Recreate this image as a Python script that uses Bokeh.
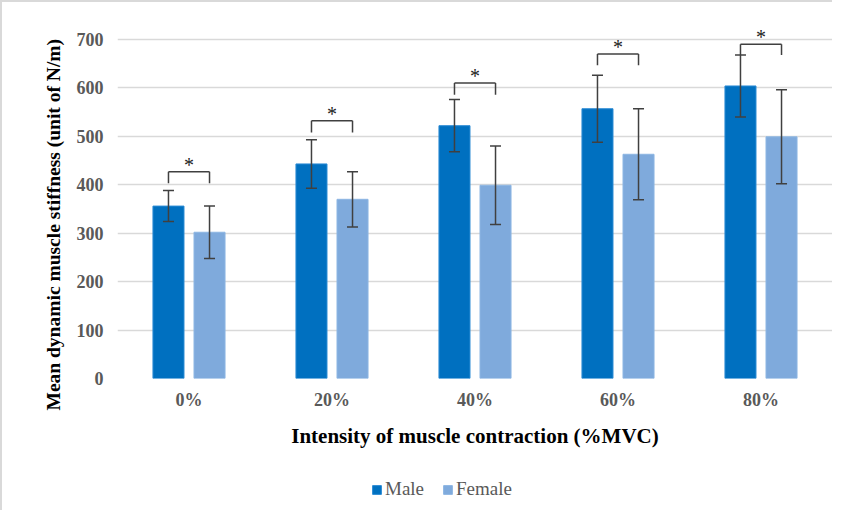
from bokeh.plotting import figure
from bokeh.layouts import column
from bokeh.models import (ColumnDataSource, FactorRange, Range1d, Whisker, TeeHead,
                          Legend, LegendItem, FixedTicker, Title)
from bokeh.transform import dodge
from bokeh.core.properties import value
from bokeh.embed import file_html
from bokeh.resources import INLINE

# ---------------- data ----------------
categories = ["0%", "20%", "40%", "60%", "80%"]
male = [356, 443, 522, 557, 604]
male_err = [32, 50, 54, 69, 64]
female = [302, 370, 399, 463, 499]
female_err = [54, 57, 81, 94, 97]
bracket_top = [427, 532, 610, 670, 690]
bracket_leg = [24, 24, 24, 23, 22]
y_ticks = [0, 100, 200, 300, 400, 500, 600, 700]
series_names = ["Male", "Female"]

FONT = "Liberation Serif"
MALE_C = "#0070C0"
FEMALE_C = "#7FAADC"
ERR_C = "#404040"
OFF = 0.1435
BW = 0.217
W = 832

src = ColumnDataSource(dict(
    cat=categories,
    male=male, female=female,
    m_up=[m + e for m, e in zip(male, male_err)],
    m_lo=[m - e for m, e in zip(male, male_err)],
    f_up=[f + e for f, e in zip(female, female_err)],
    f_lo=[f - e for f, e in zip(female, female_err)],
    b_top=bracket_top,
    b_bot=[t - l for t, l in zip(bracket_top, bracket_leg)],
    star=["*"] * len(categories),
))

p = figure(x_range=FactorRange(*categories), y_range=Range1d(0, 739.2),
           width=W, height=470, output_backend="svg", toolbar_location=None,
           min_border_left=115, min_border_right=2, min_border_top=18,
           min_border_bottom=94)
p.styles = {"border-left": "2px solid #d9d9d9", "border-top": "2px solid #d9d9d9"}
p.outline_line_color = None
p.x_range.range_padding = 0
p.x_range.factor_padding = 0

# bars
r_m = p.vbar(x=dodge("cat", -OFF, range=p.x_range), top="male", width=BW, source=src,
             fill_color=MALE_C, line_color="#2A8AD4", line_width=1)
r_f = p.vbar(x=dodge("cat", OFF, range=p.x_range), top="female", width=BW, source=src,
             fill_color=FEMALE_C, line_color="#8DB6E3", line_width=1)

# error bars
for base, up, lo in [(dodge("cat", -OFF, range=p.x_range), "m_up", "m_lo"),
                     (dodge("cat", OFF, range=p.x_range), "f_up", "f_lo")]:
    w = Whisker(base=base, upper=up, lower=lo, source=src, level="overlay",
                line_color=ERR_C, line_width=1.5,
                upper_head=TeeHead(size=11, line_color=ERR_C, line_width=1.5),
                lower_head=TeeHead(size=11, line_color=ERR_C, line_width=1.5))
    p.add_layout(w)

# significance brackets
xl = dodge("cat", -OFF, range=p.x_range)
xr = dodge("cat", OFF, range=p.x_range)
p.segment(x0=xl, x1=xr, y0="b_top", y1="b_top", source=src, line_color=ERR_C, line_width=1.5)
p.segment(x0=xl, x1=xl, y0="b_top", y1="b_bot", source=src, line_color=ERR_C, line_width=1.5)
p.segment(x0=xr, x1=xr, y0="b_top", y1="b_bot", source=src, line_color=ERR_C, line_width=1.5)
p.text(x="cat", y="b_top", text="star", source=src, text_align="center",
       text_baseline="bottom", y_offset=4, text_font=value(FONT),
       text_font_size="20px", text_color="#222222")

# axes
p.xgrid.grid_line_color = None
p.ygrid.grid_line_color = "#d9d9d9"
p.ygrid.grid_line_width = 1.5
p.yaxis.ticker = FixedTicker(ticks=y_ticks)
for ax in (p.xaxis[0], p.yaxis[0]):
    ax.axis_line_color = None
    ax.major_tick_line_color = None
    ax.minor_tick_line_color = None
    ax.major_label_text_font = FONT
    ax.major_label_text_font_style = "bold"
    ax.major_label_text_color = "#595959"
    ax.major_label_text_font_size = "18px"
p.yaxis.major_label_standoff = 8
p.xaxis.major_label_standoff = 5

p.xaxis.axis_label = "Intensity of muscle contraction (%MVC)"
p.xaxis.axis_label_text_font = FONT
p.xaxis.axis_label_text_font_style = "bold"
p.xaxis.axis_label_text_font_size = "21px"
p.xaxis.axis_label_text_color = "#000000"
p.xaxis.axis_label_standoff = 11

ytitle = Title(text="Mean dynamic muscle stiffness (unit of N/m)", align="left",
               text_font=FONT, text_font_style="bold", text_font_size="19.5px",
               text_color="#000000", standoff=20, offset=-32)
p.add_layout(ytitle, "left")

# ---------------- legend strip ----------------
pl = figure(width=W, height=40, x_range=Range1d(0, 1), y_range=Range1d(0, 1),
            x_axis_type=None, y_axis_type=None, output_backend="svg",
            toolbar_location=None, min_border=0)
pl.styles = {"border-left": "2px solid #d9d9d9"}
pl.outline_line_color = None
pl.xgrid.grid_line_color = None
pl.ygrid.grid_line_color = None
# legend proxies: series bars fall outside this strip's range, so only the legend shows
lg_m = pl.vbar(x="male", top="male", bottom="male", width=0.1, source=src,
               fill_color=MALE_C, line_color="#2A8AD4")
lg_f = pl.vbar(x="female", top="female", bottom="female", width=0.1, source=src,
               fill_color=FEMALE_C, line_color="#8DB6E3")

legend = Legend(items=[LegendItem(label=series_names[0], renderers=[lg_m]),
                       LegendItem(label=series_names[1], renderers=[lg_f])],
                orientation="horizontal", location=(254, 10),
                label_text_font=FONT, label_text_font_size="19px",
                label_text_color="#595959", glyph_width=11, glyph_height=11,
                label_standoff=3, spacing=18, padding=2, margin=0,
                border_line_color=None, background_fill_alpha=0)
pl.add_layout(legend, "center")

layout = column(p, pl, spacing=0)
open("out.html", "w").write(file_html(layout, INLINE))
